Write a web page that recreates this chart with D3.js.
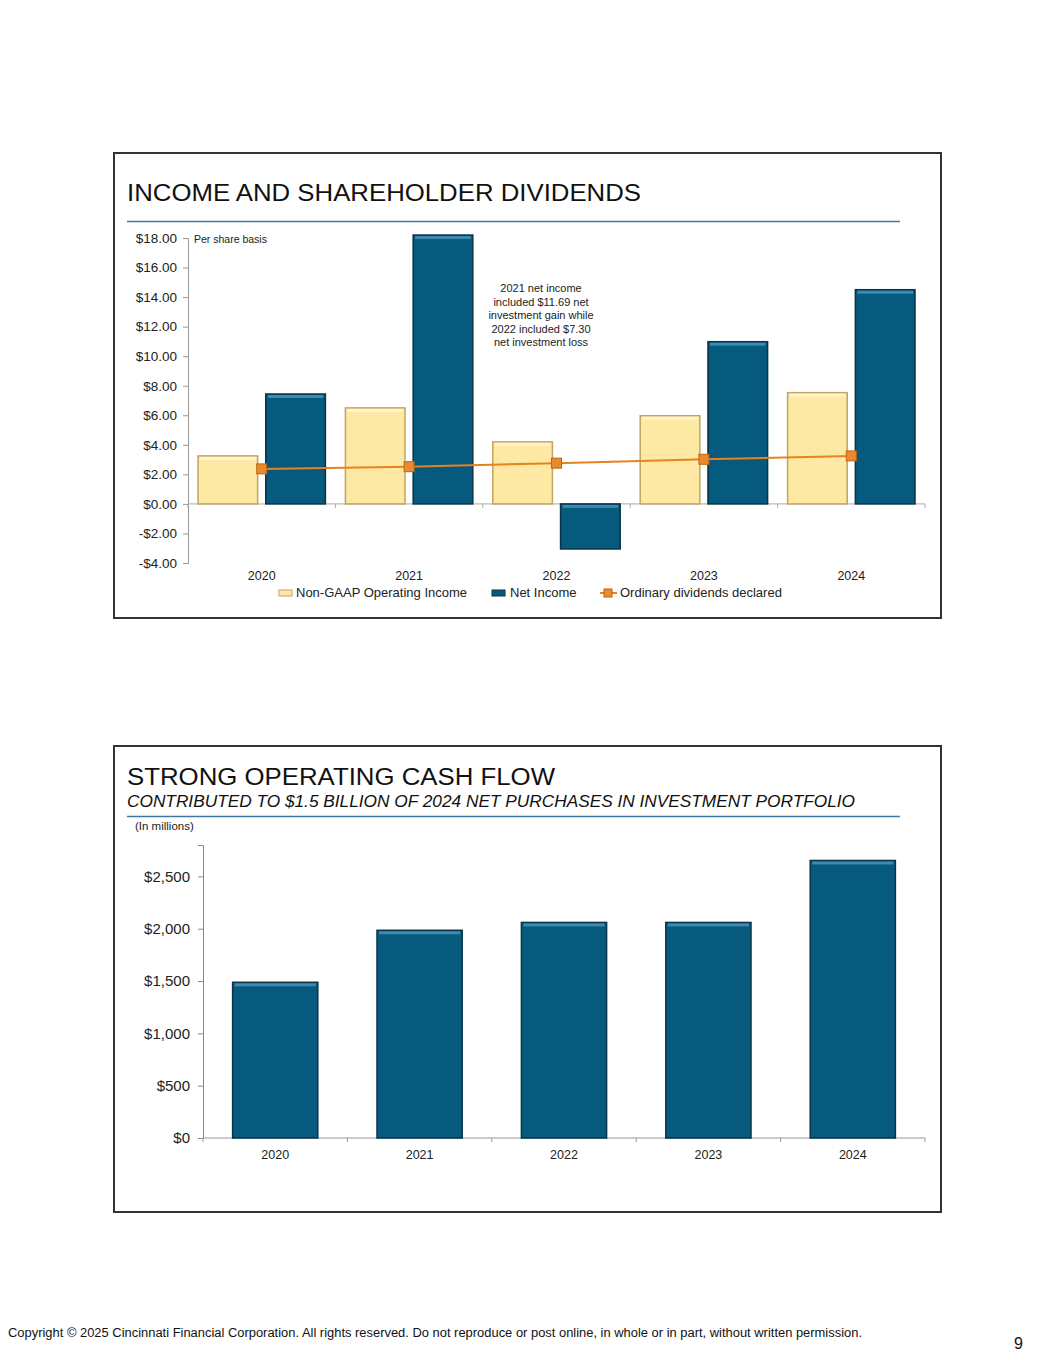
<!DOCTYPE html>
<html>
<head>
<meta charset="utf-8">
<script src="https://cdn.jsdelivr.net/npm/d3@7"></script>
<style>
  body { margin: 0; background: #fff; }
  svg { display: block; font-family: "Liberation Sans", Arial, sans-serif; }
</style>
</head>
<body>
<div id="page"></div>
<script>
// data
var years = ["2020", "2021", "2022", "2023", "2024"];
var operatingIncome = [3.25, 6.50, 4.20, 5.97, 7.53];
var netIncome = [7.44, 18.20, -3.05, 10.98, 14.50];
var dividends = [2.37, 2.52, 2.76, 3.02, 3.25];
var incomeTicks = [-4, -2, 0, 2, 4, 6, 8, 10, 12, 14, 16, 18];

var cashFlow = [1488, 1985, 2060, 2060, 2652];
var cashTicks = [0, 500, 1000, 1500, 2000, 2500];

var noteLines = ["2021 net income", "included $11.69 net", "investment gain while", "2022 included $7.30", "net investment loss"];

var yellow = "#fde8a4", yellowEdge = "#c4a464", yellowTop = "#fff4cc";
var navy = "#065a7d", navyEdge = "#0b3247", navyTop = "#3a8ab2";
var orange = "#e8821e";

var svg = d3.select("#page").append("svg")
  .attr("width", 1055)
  .attr("height", 1365);

// ---------- panel 1 ----------
svg.append("rect").attr("x", 114).attr("y", 153).attr("width", 827).attr("height", 465)
  .attr("fill", "none").attr("stroke", "#333").attr("stroke-width", 2);

svg.append("text").attr("x", 127).attr("y", 201).attr("font-size", 24).attr("fill", "#111")
  .attr("textLength", 514).attr("lengthAdjust", "spacingAndGlyphs")
  .text("INCOME AND SHAREHOLDER DIVIDENDS");
svg.append("line").attr("x1", 127).attr("x2", 900).attr("y1", 221.5).attr("y2", 221.5)
  .attr("stroke", "#3f77a0").attr("stroke-width", 1.3);

var x = d3.scaleBand().domain(years).range([188, 925]);
var xs = d3.scaleBand().domain(["op", "net"]).range([10, x.bandwidth() - 10]).paddingInner(0.12);
var y = d3.scaleLinear().domain([-4, 18]).range([563, 238]);

var g1 = svg.append("g");

// y axis
var yAxis = g1.append("g").attr("transform", "translate(188,0)")
  .call(d3.axisLeft(y).tickValues(incomeTicks).tickSize(5).tickPadding(6)
    .tickFormat(d => (d < 0 ? "-$" : "$") + Math.abs(d).toFixed(2)));
yAxis.select(".domain").attr("stroke", "#999");
yAxis.selectAll(".tick line").attr("stroke", "#999");
yAxis.selectAll("text").attr("font-size", 13.5).attr("fill", "#222")
  .attr("font-family", "Liberation Sans, Arial, sans-serif");

// x axis at zero
var xAxis = g1.append("g").attr("transform", "translate(0," + y(0) + ")");
xAxis.append("line").attr("x1", 188).attr("x2", 925).attr("stroke", "#aaa");
xAxis.selectAll("line.tk").data(years.concat(["end"])).enter().append("line")
  .attr("class", "tk")
  .attr("x1", d => d === "end" ? x.range()[1] : x(d))
  .attr("x2", d => d === "end" ? x.range()[1] : x(d))
  .attr("y1", 0).attr("y2", 4).attr("stroke", "#aaa");

g1.selectAll("text.cat").data(years).enter().append("text")
  .attr("class", "cat")
  .attr("x", d => x(d) + x.bandwidth() / 2).attr("y", 580)
  .attr("text-anchor", "middle").attr("font-size", 12.5).attr("fill", "#222")
  .text(d => d);

function bars(g, vals, key, fill, edge, top) {
  var sel = g.selectAll("g." + key).data(vals).enter().append("g").attr("class", key);
  sel.append("rect")
    .attr("x", (d, i) => x(years[i]) + xs(key))
    .attr("y", d => y(Math.max(0, d)))
    .attr("width", xs.bandwidth())
    .attr("height", d => Math.abs(y(d) - y(0)))
    .attr("fill", fill).attr("stroke", edge).attr("stroke-width", 1.5);
  sel.append("rect")
    .attr("x", (d, i) => x(years[i]) + xs(key) + 2)
    .attr("y", d => y(Math.max(0, d)) + 1)
    .attr("width", xs.bandwidth() - 4)
    .attr("height", 3)
    .attr("fill", top);
}
bars(g1, operatingIncome, "op", yellow, yellowEdge, yellowTop);
bars(g1, netIncome, "net", navy, navyEdge, navyTop);

// dividends line
var line = d3.line().x((d, i) => x(years[i]) + x.bandwidth() / 2).y(d => y(d));
g1.append("path").datum(dividends).attr("d", line)
  .attr("fill", "none").attr("stroke", orange).attr("stroke-width", 2);
g1.selectAll("rect.mk").data(dividends).enter().append("rect")
  .attr("class", "mk")
  .attr("x", (d, i) => x(years[i]) + x.bandwidth() / 2 - 5)
  .attr("y", d => y(d) - 5)
  .attr("width", 10).attr("height", 10)
  .attr("fill", "#e98b2c").attr("stroke", "#c0650f").attr("stroke-width", 1);

g1.append("text").attr("x", 194).attr("y", 243).attr("font-size", 10.5).attr("fill", "#222")
  .text("Per share basis");

g1.append("text").attr("text-anchor", "middle").attr("font-size", 11).attr("fill", "#222")
  .selectAll("tspan").data(noteLines).enter().append("tspan")
  .attr("x", 541).attr("y", (d, i) => 292 + i * 13.5)
  .text(d => d);

// legend
var leg = g1.append("g").attr("font-size", 13).attr("fill", "#222");
leg.append("rect").attr("x", 279).attr("y", 590).attr("width", 13).attr("height", 6)
  .attr("fill", yellow).attr("stroke", yellowEdge);
leg.append("text").attr("x", 296).attr("y", 597).text("Non-GAAP Operating Income");
leg.append("rect").attr("x", 492).attr("y", 590).attr("width", 13).attr("height", 6)
  .attr("fill", navy).attr("stroke", navyEdge);
leg.append("text").attr("x", 510).attr("y", 597).text("Net Income");
leg.append("line").attr("x1", 600).attr("x2", 617).attr("y1", 593).attr("y2", 593)
  .attr("stroke", orange).attr("stroke-width", 2);
leg.append("rect").attr("x", 604).attr("y", 589).attr("width", 8).attr("height", 8)
  .attr("fill", "#e98b2c").attr("stroke", "#c0650f");
leg.append("text").attr("x", 620).attr("y", 597).text("Ordinary dividends declared");

// ---------- panel 2 ----------
svg.append("rect").attr("x", 114).attr("y", 746).attr("width", 827).attr("height", 466)
  .attr("fill", "none").attr("stroke", "#333").attr("stroke-width", 2);

svg.append("text").attr("x", 127).attr("y", 785).attr("font-size", 24.5).attr("fill", "#111")
  .attr("textLength", 428).attr("lengthAdjust", "spacingAndGlyphs")
  .text("STRONG OPERATING CASH FLOW");
svg.append("text").attr("x", 127).attr("y", 807).attr("font-size", 16).attr("font-style", "italic")
  .attr("fill", "#111")
  .attr("textLength", 728).attr("lengthAdjust", "spacingAndGlyphs")
  .text("CONTRIBUTED TO $1.5 BILLION OF 2024 NET PURCHASES IN INVESTMENT PORTFOLIO");
svg.append("line").attr("x1", 127).attr("x2", 900).attr("y1", 816.5).attr("y2", 816.5)
  .attr("stroke", "#3f77a0").attr("stroke-width", 1.3);
svg.append("text").attr("x", 135).attr("y", 830).attr("font-size", 11.5).attr("fill", "#222")
  .text("(In millions)");

var x2 = d3.scaleBand().domain(years).range([203, 925]).paddingInner(0.41).paddingOuter(0.205);
var y2 = d3.scaleLinear().domain([0, 2800]).range([1138, 845]);

var g2 = svg.append("g");
var yAxis2 = g2.append("g").attr("transform", "translate(203,0)")
  .call(d3.axisLeft(y2).tickValues(cashTicks).tickSize(5).tickPadding(8)
    .tickFormat(d => "$" + d3.format(",")(d)));
yAxis2.select(".domain").attr("stroke", "#888");
yAxis2.selectAll(".tick line").attr("stroke", "#888");
yAxis2.selectAll("text").attr("font-size", 15).attr("fill", "#222")
  .attr("font-family", "Liberation Sans, Arial, sans-serif");

var bounds = [203].concat(years.map(d => x2(d) + x2.bandwidth() + x2.step() * 0.205));
var xAxis2 = g2.append("g").attr("transform", "translate(0," + y2(0) + ")");
xAxis2.append("line").attr("x1", 203).attr("x2", 925).attr("stroke", "#999");
xAxis2.selectAll("line.tk").data(bounds).enter().append("line")
  .attr("class", "tk").attr("x1", d => d).attr("x2", d => d)
  .attr("y1", 0).attr("y2", 4).attr("stroke", "#999");

g2.selectAll("text.cat").data(years).enter().append("text")
  .attr("class", "cat")
  .attr("x", d => x2(d) + x2.bandwidth() / 2).attr("y", 1159)
  .attr("text-anchor", "middle").attr("font-size", 12.5).attr("fill", "#222")
  .text(d => d);

var cb = g2.selectAll("g.cf").data(cashFlow).enter().append("g").attr("class", "cf");
cb.append("rect")
  .attr("x", (d, i) => x2(years[i])).attr("y", d => y2(d))
  .attr("width", x2.bandwidth()).attr("height", d => y2(0) - y2(d))
  .attr("fill", navy).attr("stroke", navyEdge).attr("stroke-width", 1.5);
cb.append("rect")
  .attr("x", (d, i) => x2(years[i]) + 2).attr("y", d => y2(d) + 1)
  .attr("width", x2.bandwidth() - 4).attr("height", 3)
  .attr("fill", navyTop);

// footer
svg.append("text").attr("x", 8).attr("y", 1337).attr("font-size", 12).attr("fill", "#111")
  .attr("textLength", 854).attr("lengthAdjust", "spacingAndGlyphs")
  .text("Copyright \u00a9 2025 Cincinnati Financial Corporation. All rights reserved. Do not reproduce or post online, in whole or in part, without written permission.");
svg.append("text").attr("x", 1014).attr("y", 1349).attr("font-size", 16).attr("fill", "#111")
  .text("9");
</script>
</body>
</html>
